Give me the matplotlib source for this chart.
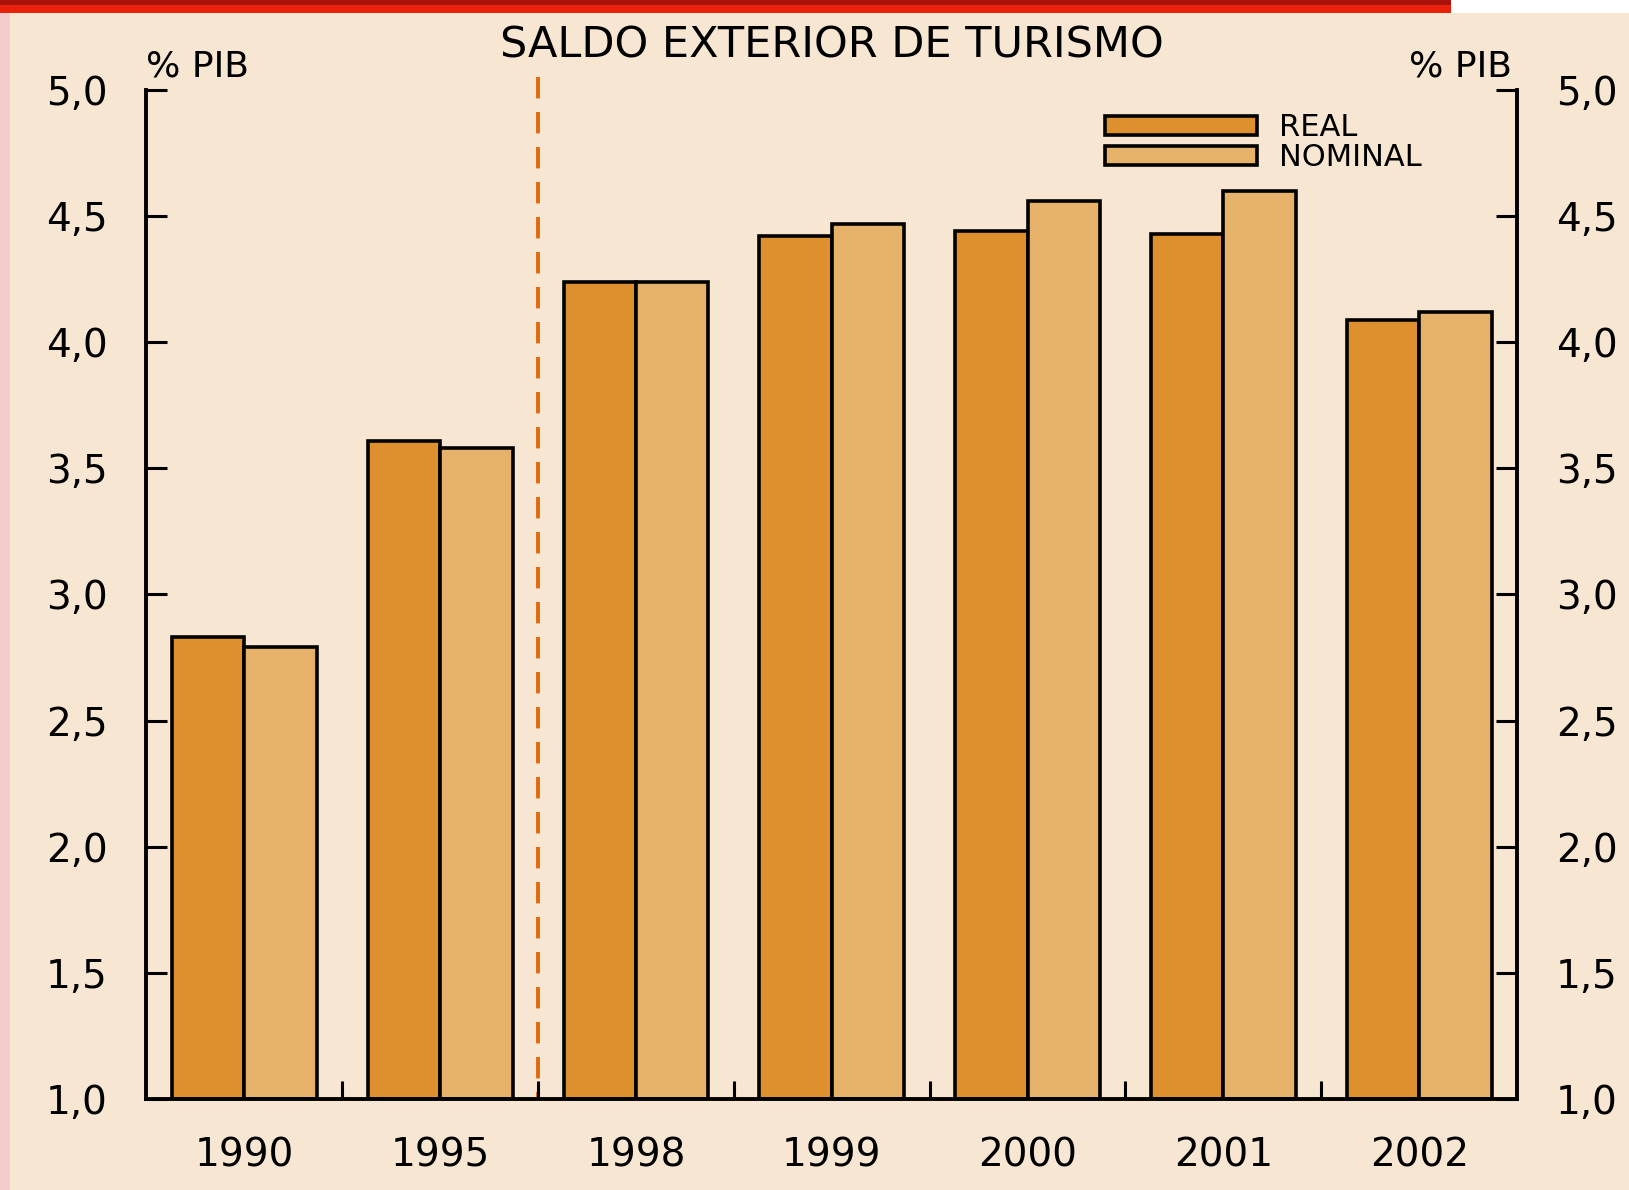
import matplotlib.pyplot as plt
from matplotlib.patches import Rectangle
import numpy as np

# data (% PIB)
years = ["1990", "1995", "1998", "1999", "2000", "2001", "2002"]
real = [2.83, 3.61, 4.24, 4.42, 4.44, 4.43, 4.09]
nominal = [2.79, 3.58, 4.24, 4.47, 4.56, 4.60, 4.12]
yticks = [1.0, 1.5, 2.0, 2.5, 3.0, 3.5, 4.0, 4.5, 5.0]
ytick_labels = [f"{v:.1f}".replace(".", ",") for v in yticks]

bg = "#f7e6d2"
c_real = "#df902e"
c_nom = "#e6b26a"

plt.rcParams['font.family'] = ['DejaVu Sans']

fig = plt.figure(figsize=(16.29, 11.90), dpi=100)
fig.patch.set_facecolor(bg)

# decorative page strips
fig.patches.append(Rectangle((0, 1 - 13 / 1190), 0.891, 13 / 1190, transform=fig.transFigure,
                             facecolor="#e8200c", edgecolor="none", zorder=0))
fig.patches.append(Rectangle((0, 1 - 5 / 1190), 0.891, 5 / 1190, transform=fig.transFigure,
                             facecolor="#a8120a", edgecolor="none", zorder=0))
fig.patches.append(Rectangle((0.891, 1 - 13 / 1190), 0.109, 13 / 1190, transform=fig.transFigure,
                             facecolor="white", edgecolor="none", zorder=0))
fig.patches.append(Rectangle((0, 0), 10 / 1629, 1 - 13 / 1190, transform=fig.transFigure,
                             facecolor="#f4cccc", edgecolor="none", zorder=0))

ax = fig.add_axes([0.0899, 0.0765, 0.8414, 0.8479])
ax.set_facecolor(bg)

x = np.arange(len(years))
w = 0.37
b1 = ax.bar(x - w / 2, np.array(real) - 1.0, w, bottom=1.0, color=c_real,
            edgecolor="black", linewidth=2.6, label="REAL", zorder=2)
b2 = ax.bar(x + w / 2, np.array(nominal) - 1.0, w, bottom=1.0, color=c_nom,
            edgecolor="black", linewidth=2.6, label="NOMINAL", zorder=2)

ax.set_xlim(-0.5, len(years) - 0.5)
ax.set_ylim(1.0, 5.0)

# separator between 1995 and the yearly series
ax.vlines(1.5, 5.05, 1.0, colors="#e06a10", linestyles=(0, (5.5, 3.5)),
          linewidth=2.8, clip_on=False, zorder=1)

for s in ["left", "right", "bottom"]:
    ax.spines[s].set_linewidth(2.8)
ax.spines["top"].set_visible(False)

ax.set_yticks(yticks)
ax.set_yticklabels(ytick_labels)
ax.tick_params(axis="y", which="both", direction="in", length=15, width=2.2,
               left=True, right=True, labelleft=True, labelright=True,
               labelsize=28, pad=28)

ax.set_xticks(x)
ax.set_xticklabels(years)
ax.set_xticks(np.arange(0.5, len(years) - 0.5, 1.0), minor=True)
ax.tick_params(axis="x", which="major", length=0, labelsize=28, pad=27)
ax.tick_params(axis="x", which="minor", direction="in", length=13, width=2.2)

ax.text(0.5, 1.044, "SALDO EXTERIOR DE TURISMO", transform=ax.transAxes,
        ha="center", va="center", fontsize=31)
ax.text(0.0, 1.006, "% PIB", transform=ax.transAxes, ha="left", va="bottom", fontsize=26)
ax.text(0.996, 1.006, "% PIB", transform=ax.transAxes, ha="right", va="bottom", fontsize=26)

ax.legend(handles=[b1, b2], loc="upper left", bbox_to_anchor=(0.699, 0.977),
          frameon=False, fontsize=22, handlelength=5.0, handleheight=0.56,
          handletextpad=0.7, labelspacing=0.03, borderpad=0, borderaxespad=0)

fig.savefig("out.png", dpi=100, facecolor=bg)
